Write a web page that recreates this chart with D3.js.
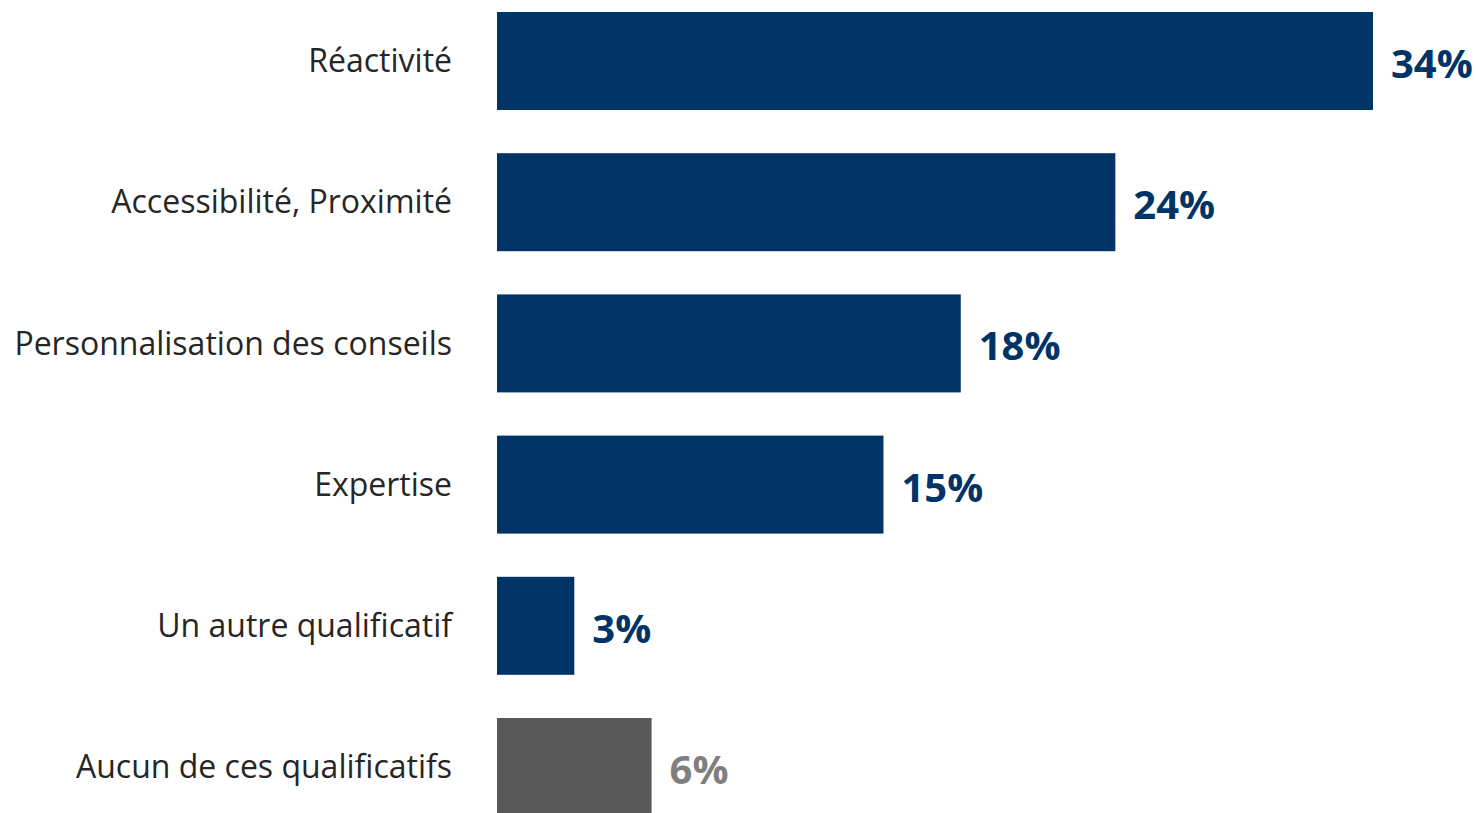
<!DOCTYPE html>
<html>
<head>
<meta charset="utf-8">
<script src="https://cdn.jsdelivr.net/npm/d3@7"></script>
<style>
html,body{margin:0;padding:0;background:#fff;overflow:hidden;}
svg{display:block;}
</style>
</head>
<body>
<script>
const categories = ["Réactivité","Accessibilité, Proximité","Personnalisation des conseils","Expertise","Un autre qualificatif","Aucun de ces qualificatifs"];
const values = [34,24,18,15,3,6];
const valueLabels = ["34%","24%","18%","15%","3%","6%"];
const barColors = ["#003466","#003466","#003466","#003466","#003466","#595959"];
const labelColors = ["#003466","#003466","#003466","#003466","#003466","#7f7f7f"];

const W = 1479, H = 813;
const svg = d3.select("body").append("svg").attr("width", W).attr("height", H);

const x = d3.scaleLinear().domain([0, 34]).range([497, 1373]);
const y = d3.scaleBand().domain(categories).range([12, 816]).paddingInner(0.306).paddingOuter(0);

const data = categories.map((c,i)=>({c, v: values[i], lab: valueLabels[i], bc: barColors[i], lc: labelColors[i]}));

svg.selectAll("rect.bar").data(data).join("rect")
  .attr("class","bar")
  .attr("x", x(0))
  .attr("y", d=>y(d.c))
  .attr("width", d=>x(d.v)-x(0))
  .attr("height", y.bandwidth())
  .attr("fill", d=>d.bc);

const fontFam = "'Open Sans', 'Noto Sans', sans-serif";

svg.selectAll("text.cat").data(data).join("text")
  .attr("class","cat")
  .attr("x", 452)
  .attr("y", d=>y(d.c)+y.bandwidth()/2)
  .attr("dy","0.35em")
  .attr("text-anchor","end")
  .attr("font-family", fontFam)
  .attr("font-size", 32)
  .attr("fill","#262626")
  .text(d=>d.c);

svg.selectAll("text.val").data(data).join("text")
  .attr("class","val")
  .attr("x", d=>x(d.v)+18)
  .attr("y", d=>y(d.c)+y.bandwidth()/2+3)
  .attr("dy","0.35em")
  .attr("text-anchor","start")
  .attr("font-family", fontFam)
  .attr("font-weight","bold")
  .attr("font-size", 40)
  .attr("fill", d=>d.lc)
  .text(d=>d.lab);
</script>
</body>
</html>
